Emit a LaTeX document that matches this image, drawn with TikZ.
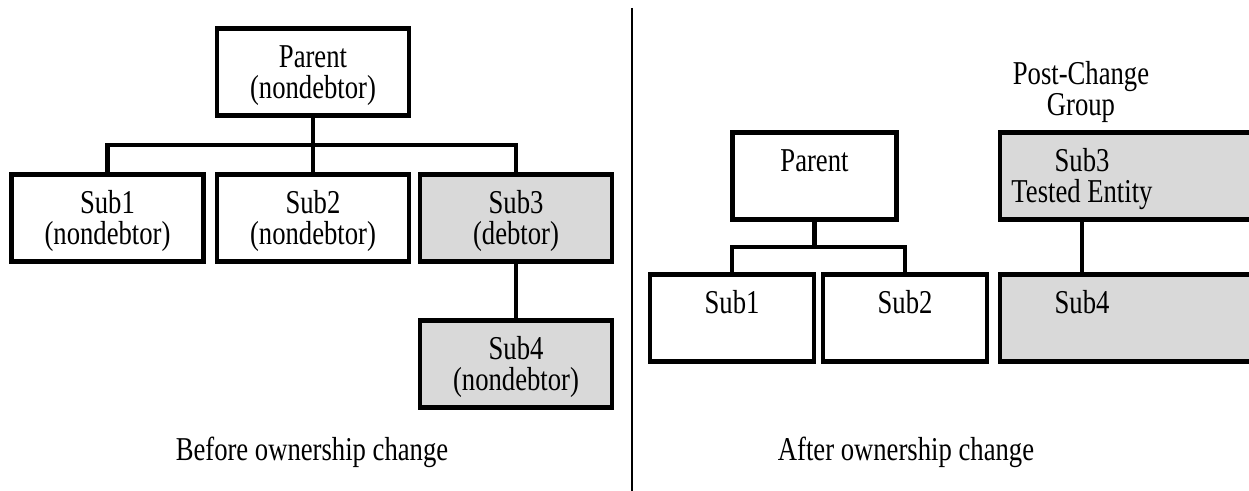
\documentclass[tikz,border=0pt]{standalone}
\usepackage{fontspec}
\setmainfont{Liberation Serif}[FakeStretch=0.8]
\usetikzlibrary{backgrounds,calc}
\definecolor{shade}{RGB}{217,217,217}
% a taller strut for the first line, so box text sits a little low
\newcommand\hirow{\rule{0pt}{23.8pt}}
\begin{document}
\begin{tikzpicture}[x=0.75pt,y=-0.75pt,
  every node/.style={font=\fontsize{25pt}{23.25pt}\selectfont},
  entity/.style={draw=black, line width=3.5pt, fill=white, align=center,
    inner sep=0pt, outer sep=0pt, minimum height=65.25pt, line join=miter},
  wide/.style={entity, minimum width=144pt},
  narrow/.style={entity, minimum width=123pt},
  debtor/.style={fill=shade},
  textonly/.style={draw=none, fill=none},
  link/.style={line width=3.5pt, line join=miter},
  caption/.style={align=center, inner sep=0pt}]
\useasboundingbox (0,0) rectangle (1249,491);
\clip (0,0) rectangle (1249,491);

% ---- before the ownership change ----
\node[wide] (lp) at (313,72) {\hirow Parent\\\strut(nondebtor)};
\node[wide] (l1) at (107.5,218) {\hirow Sub1\\\strut(nondebtor)};
\node[wide] (l2) at (313,218) {\hirow Sub2\\\strut(nondebtor)};
\node[wide,debtor] (l3) at (516,218) {\hirow Sub3\\\strut(debtor)};
\node[wide,debtor] (l4) at (516,364) {\hirow Sub4\\\strut(nondebtor)};

\draw[link] (lp.south) -- (l2.north);
\draw[link] (l1.north) -- ++(0,-29.5) -| (l3.north);
\draw[link] (l3.south) -- (l4.north);

\node[caption] (capL) at (312,452) {Before ownership change};

% ---- divider ----
\coordinate (dtop) at (632,8);
\coordinate (dbot) at (632,491);
\draw[line width=1.5pt] (dtop) -- (dbot);

% ---- after the ownership change ----
\node[narrow] (rp) at (814.5,176) {\hirow Parent\\\strut};
\node[narrow] (r1) at (732,318) {\hirow Sub1\\\strut};
\node[narrow] (r2) at (905,318) {\hirow Sub2\\\strut};

\draw[link] (rp.south) -- ++(0,27.5);
\draw[link] (r1.north) -- ++(0,-27.5) -| (r2.north);

% post-change group: boxes run past the right edge
\node[narrow,textonly] (r3) at (1082,176) {\hirow Sub3\\\strut Tested Entity};
\node[narrow,textonly] (r4) at (1082,318) {\hirow Sub4\\\strut};
\coordinate (redge) at (1251,0);
\begin{scope}[on background layer]
  \draw[entity,debtor] (r3.north west) rectangle (r3.south -| redge);
  \draw[entity,debtor] (r4.north west) rectangle (r4.south -| redge);
\end{scope}
\draw[link] (r3.south) -- (r4.north);

\node[caption] (grp) at (1081,92) {Post-Change\\Group};
\node[caption] (capR) at (906,452) {After ownership change};
\end{tikzpicture}
\end{document}
